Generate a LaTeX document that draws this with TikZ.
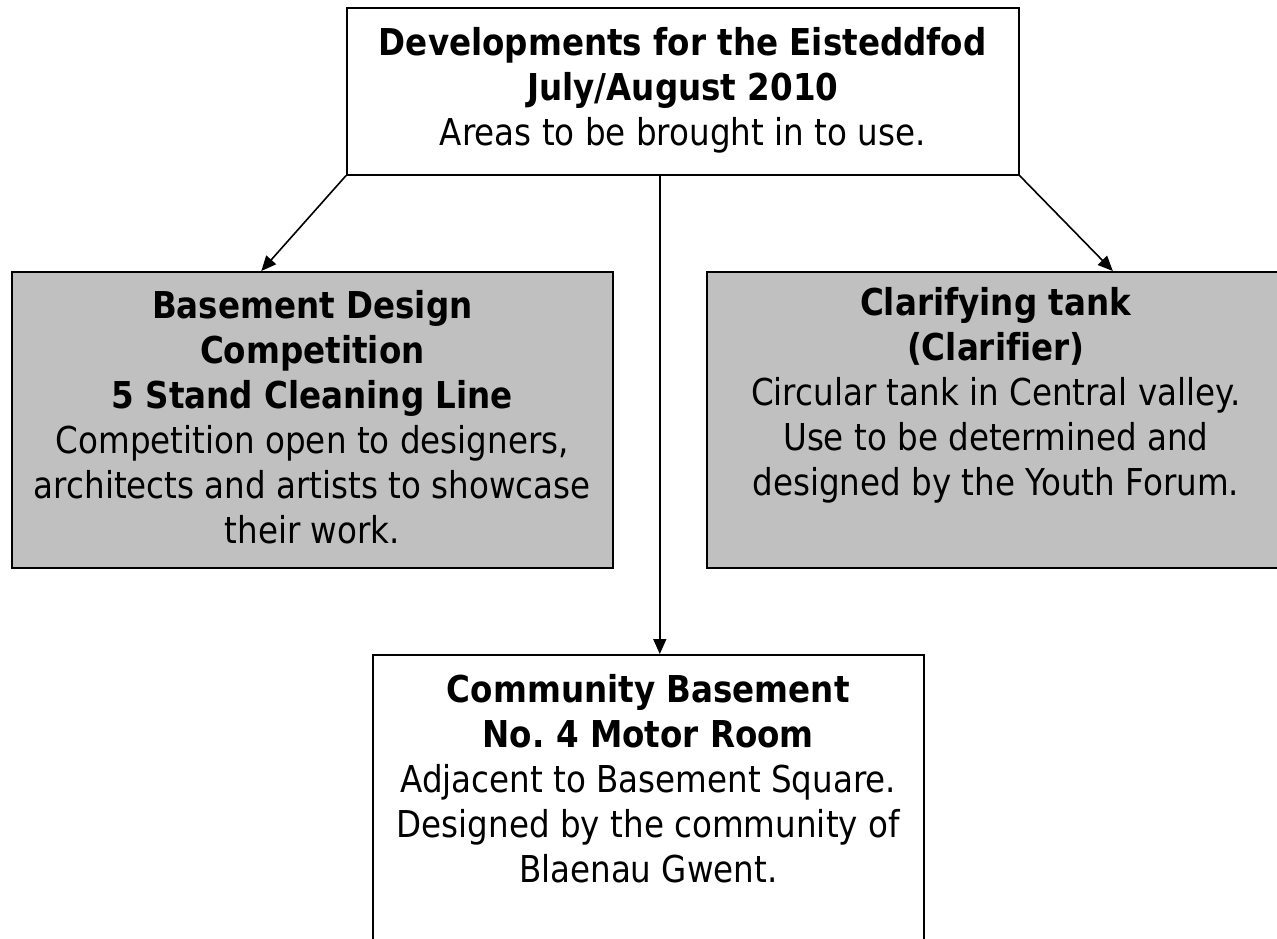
\documentclass[tikz,border=0pt]{standalone}
\usepackage{fontspec}
\setmainfont{DejaVu Sans}[FakeStretch=0.88, Ligatures=NoCommon]
\usetikzlibrary{arrows.meta,positioning}
\definecolor{boxgray}{HTML}{C0C0C0}
\frenchspacing
\tikzset{
	box/.style={draw, line width=1.6pt, inner sep=0pt, anchor=north west},
	graybox/.style={box, fill=boxgray},
	boxtext/.style={anchor=north, align=center, inner sep=0pt, font=\fontsize{37}{45}\selectfont},
	arr/.style={line width=1.6pt, -{Triangle[length=15pt,width=13pt]}},
}

\begin{document}
\begin{tikzpicture}[x=1pt, y=-1pt]
	
	\useasboundingbox (0,0) rectangle (1277,938);
	
	\node[box, minimum width=672pt, minimum height=167pt] (dev) at (346,7) {};
	\node[graybox, minimum width=601pt, minimum height=296pt] (design) at (11,271) {};
	\node[graybox, minimum width=578pt, minimum height=296pt] (tank) at (706,271) {};
	\node[box, minimum width=551pt, minimum height=320pt] (comm) at (372,654) {};
	
	\node[boxtext, below=20pt of dev.north] (devtext) {\textbf{Developments for the Eisteddfod}\\ \textbf{July/August 2010}\\ Areas to be brought in to use.};
	\node[boxtext, below=19pt of design.north] (designtext) {\textbf{Basement Design}\\ \textbf{Competition}\\ \textbf{5 Stand Cleaning Line}\\ Competition open to designers,\\ architects and artists to showcase\\ their work.};
	\node[boxtext, below=16pt of tank.north] (tanktext) {\textbf{Clarifying tank}\\ \textbf{(Clarifier)}\\ Circular tank in Central valley.\\ Use to be determined and\\ designed by the Youth Forum.};
	\node[boxtext, below=20pt of comm.north] (commtext) {\textbf{Community Basement}\\ \textbf{No.\ 4 Motor Room}\\ Adjacent to Basement Square.\\ Designed by the community of\\ Blaenau Gwent.};
	
	\draw[arr] (dev.south west) -- ([xshift=-51pt]design.north);
	\draw[arr] (dev.south east) -- ([xshift=117pt]tank.north);
	\draw[arr] ([xshift=-23pt]dev.south) -- ([xshift=-23pt]dev.south |- comm.north);
	
\end{tikzpicture}
\end{document}
